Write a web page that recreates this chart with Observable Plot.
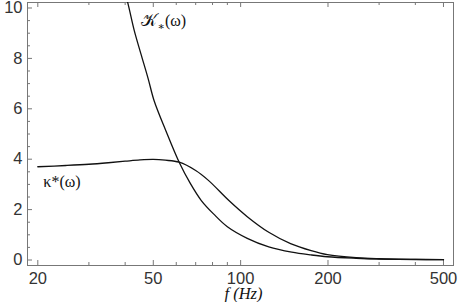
<!DOCTYPE html>
<html>
<head>
<meta charset="utf-8">
<script src="https://cdn.jsdelivr.net/npm/d3@7"></script>
<script src="https://cdn.jsdelivr.net/npm/@observablehq/plot@0.6"></script>
<style>
  html, body { margin: 0; padding: 0; background: white; }
</style>
</head>
<body>
<div id="chart"></div>
<script>
// K_*(omega) curve (steep)
const fK = [39, 40.8, 43, 45.3, 48, 50.3, 55.2, 61.4, 67, 73.2, 80.8, 90, 105.4, 125, 150, 175, 199, 250, 300, 400, 500];
const vK = [11.0, 10.22, 9.1, 8.19, 7.2, 6.33, 5.14, 3.88, 3.05, 2.36, 1.82, 1.32, 0.86, 0.52, 0.31, 0.20, 0.13, 0.07, 0.04, 0.02, 0.012];
// kappa*(omega) curve (flat then decaying)
const fKappa = [20, 25, 30, 35, 40, 45, 50, 55, 61.4, 70, 77.6, 91.1, 105.4, 125, 148.6, 175, 199, 250, 300, 400, 500];
const vKappa = [3.70, 3.75, 3.80, 3.86, 3.92, 3.97, 3.99, 3.96, 3.88, 3.55, 3.15, 2.36, 1.72, 1.10, 0.65, 0.37, 0.21, 0.09, 0.05, 0.025, 0.015];

const xMajor = [20, 50, 100, 200, 500];
const xMinor = [30, 40, 60, 70, 80, 90, 300, 400];
const yMajor = [0, 2, 4, 6, 8, 10];
const yMinor = [0.5, 1, 1.5, 2.5, 3, 3.5, 4.5, 5, 5.5, 6.5, 7, 7.5, 8.5, 9, 9.5];

const kData = fK.map((f, i) => ({f, v: vK[i]}));
const kappaData = fKappa.map((f, i) => ({f, v: vKappa[i]}));

const W = 464, H = 302, mL = 27, mR = 11, mT = 2, mB = 37;
const fw = W - mL - mR, fh = H - mT - mB;
const frameColor = "#777";

const chart = Plot.plot({
  width: W,
  height: H,
  marginLeft: mL,
  marginRight: mR,
  marginTop: mT,
  marginBottom: mB,
  x: {type: "log", domain: [18.43, 541.4]},
  y: {domain: [-0.218, 10.218]},
  style: {fontFamily: "'Liberation Sans', Arial, sans-serif", fontSize: "16.5px", color: "#333", background: "white"},
  marks: [
    Plot.frame({stroke: frameColor}),
    // inward ticks: bottom & top
    Plot.tickX(xMajor, {x: d => d, insetTop: fh - 5, stroke: frameColor}),
    Plot.tickX(xMinor, {x: d => d, insetTop: fh - 3, stroke: frameColor}),
    Plot.tickX(xMajor, {x: d => d, insetBottom: fh - 5, stroke: frameColor}),
    Plot.tickX(xMinor, {x: d => d, insetBottom: fh - 3, stroke: frameColor}),
    // inward ticks: left
    Plot.tickY(yMajor, {y: d => d, insetRight: fw - 5, stroke: frameColor}),
    Plot.tickY(yMinor, {y: d => d, insetRight: fw - 3, stroke: frameColor}),
    Plot.axisX({anchor: "bottom", ticks: xMajor, tickSize: 0, tickPadding: 6.5, tickFormat: d => String(d), label: null, fill: "#333"}),
    Plot.axisY({anchor: "left", ticks: yMajor, tickSize: 0, tickPadding: 5, tickFormat: d => String(d), label: null, fill: "#333"}),
    Plot.line(kData, {x: "f", y: "v", curve: "catmull-rom", clip: true, stroke: "#111", strokeWidth: 1.3}),
    Plot.line(kappaData, {x: "f", y: "v", curve: "catmull-rom", clip: true, stroke: "#111", strokeWidth: 1.3}),
    Plot.text([{f: 45.5, v: 9.5}], {x: "f", y: "v", text: () => "𝒦∗(ω)", textAnchor: "start", fontFamily: "'DejaVu Serif', 'Liberation Serif', serif", fontSize: 17, fill: "#111"}),
    Plot.text([{f: 20.9, v: 3.12}], {x: "f", y: "v", text: () => "κ*(ω)", textAnchor: "start", fontFamily: "'Liberation Serif', serif", fontSize: 16, fill: "#111"}),
    Plot.text([0], {frameAnchor: "bottom", dx: 3, dy: 33, text: () => "f (Hz)", fontStyle: "italic", fontFamily: "'Liberation Serif', serif", fontSize: 16.5, fill: "#111"})
  ]
});

// make the asterisk of the K label a subscript (real text kept)
chart.querySelectorAll("text").forEach(t => {
  if (t.textContent === "𝒦∗(ω)") {
    const ns = "http://www.w3.org/2000/svg";
    while (t.firstChild) t.removeChild(t.firstChild);
    const a = document.createElementNS(ns, "tspan"); a.textContent = "𝒦";
    const b = document.createElementNS(ns, "tspan"); b.textContent = "∗"; b.setAttribute("dy", "4"); b.setAttribute("font-size", "11");
    const c = document.createElementNS(ns, "tspan"); c.textContent = "(ω)"; c.setAttribute("dy", "-4"); c.setAttribute("font-family", "'Liberation Serif', serif"); c.setAttribute("font-size", "16");
    t.appendChild(a); t.appendChild(b); t.appendChild(c);
  }
});
document.getElementById("chart").appendChild(chart);
</script>
</body>
</html>
